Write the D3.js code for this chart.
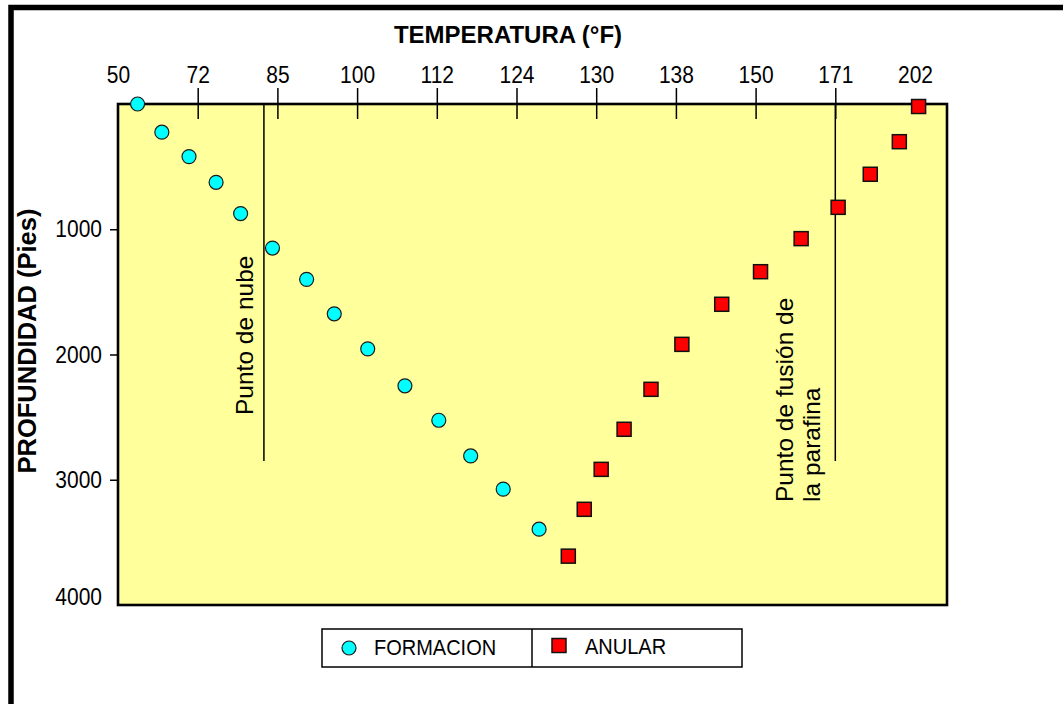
<!DOCTYPE html>
<html><head><meta charset="utf-8">
<script src="https://cdn.jsdelivr.net/npm/d3@7"></script>
<style>
body{margin:0;background:#fff}
svg{display:block}
text{font-family:"Liberation Sans",Arial,Helvetica,sans-serif;fill:#000}
</style>
</head><body>
<svg id="chart" width="1063" height="704"></svg>
<script>
// ---- data ----
const tempTicks = [50, 72, 85, 100, 112, 124, 130, 138, 150, 171, 202];
const depthTicks = [1000, 2000, 3000, 4000];
const formacionTemp  = [55.4, 62.1, 69.6, 75.0, 79.0, 84.2, 90.5, 95.7, 101.6, 107.2, 112.3, 117.1, 122.0, 125.7];
const formacionDepth = [0, 225, 420, 625, 875, 1150, 1400, 1675, 1955, 2250, 2525, 2810, 3075, 3395];
const anularTemp  = [127.9, 129.1, 130.5, 132.8, 135.5, 138.9, 144.9, 151.3, 162.0, 172.1, 184.6, 195.9, 203.4];
const anularDepth = [3610, 3236, 2917, 2597, 2278, 1919, 1599, 1339, 1075, 825, 561, 301, 20];
const seriesNames = ["FORMACION", "ANULAR"];
const xTitle = "TEMPERATURA (°F)";
const yTitle = "PROFUNDIDAD (Pies)";
const cloudPoint = {temp: 82.8, depthEnd: 2850, lines: ["Punto de nube"]};
const meltPoint  = {temp: 171,  depthEnd: 2850, lines: ["Punto de fusión de", "la parafina"]};

// ---- layout ----
const svg = d3.select("#chart");
const L = 118, T = 104, R = 947, B = 605, step = 79.7;
const S = 1.12; // vertical stretch of small labels

const x = d3.scaleLinear().domain(tempTicks).range(tempTicks.map((d, i) => L + i * step));
const y = d3.scaleLinear().domain([0, 4000]).range([T, B]);

// outer frame (top + left)
svg.append("path").attr("d", `M11,704 V7.5 H1063`).attr("fill", "none")
  .attr("stroke", "#000").attr("stroke-width", 5.5);

// plot background
svg.append("rect").attr("x", L).attr("y", T).attr("width", R - L).attr("height", B - T)
  .attr("fill", "#FFFF9C");

// x title
svg.append("text").attr("x", 508).attr("y", 43).attr("text-anchor", "middle")
  .style("font-size", "24px").style("font-weight", "bold").text(xTitle);

// y title
svg.append("text").attr("transform", "translate(36,341) rotate(-90)")
  .attr("text-anchor", "middle").style("font-size", "25.5px").style("font-weight", "bold").text(yTitle);

// top axis
const xAxis = svg.append("g").attr("transform", `translate(0,${T})`)
  .call(d3.axisTop(x).tickValues(tempTicks).tickFormat(d => d).tickSize(16).tickPadding(5));
xAxis.select(".domain").remove();
xAxis.selectAll(".tick line").attr("y1", 15).attr("y2", -16).attr("stroke", "#000").attr("stroke-width", 1.5);
xAxis.selectAll(".tick").filter(d => d === tempTicks[0] || d === tempTicks[tempTicks.length - 1])
  .select("line").remove();
xAxis.selectAll(".tick text").style("font-size", "21px").attr("fill", "#000")
  .attr("y", -21 / S).attr("transform", `scale(1,${S})`);

// left axis
const yAxis = svg.append("g").attr("transform", `translate(${L},0)`)
  .call(d3.axisLeft(y).tickValues(depthTicks).tickFormat(d => d).tickSize(8).tickPadding(8));
yAxis.select(".domain").remove();
yAxis.selectAll(".tick line").attr("stroke", "#000").attr("stroke-width", 1.5);
yAxis.selectAll(".tick text").style("font-size", "21px").attr("fill", "#000")
  .attr("transform", `scale(1,${S})`);
const lastY = yAxis.selectAll(".tick").filter(d => d === depthTicks[depthTicks.length - 1]);
lastY.select("line").remove();
lastY.select("text").attr("y", -8 / S);

// plot border
svg.append("rect").attr("x", L).attr("y", T).attr("width", R - L).attr("height", B - T)
  .attr("fill", "none").attr("stroke", "#000").attr("stroke-width", 2.6);

// annotation lines
[cloudPoint, meltPoint].forEach(a => {
  svg.append("line").attr("x1", x(a.temp)).attr("x2", x(a.temp))
    .attr("y1", y(0)).attr("y2", y(a.depthEnd)).attr("stroke", "#000").attr("stroke-width", 1.5);
});

// annotation texts
svg.append("text").attr("transform", `translate(${x(cloudPoint.temp) - 11},415) rotate(-90)`)
  .style("font-size", "24.5px").text(cloudPoint.lines[0]);
meltPoint.lines.forEach((t, i) => {
  svg.append("text").attr("transform", `translate(${x(meltPoint.temp) - 42 + i * 27},502) rotate(-90)`)
    .style("font-size", "24.5px").text(t);
});

// series
const formacion = formacionTemp.map((t, i) => ({t, d: formacionDepth[i]}));
const anular = anularTemp.map((t, i) => ({t, d: anularDepth[i]}));

svg.append("g").selectAll("circle").data(formacion).join("circle")
  .attr("cx", p => x(p.t)).attr("cy", p => y(p.d)).attr("r", 7)
  .attr("fill", "#00FFFF").attr("stroke", "#1a1a1a").attr("stroke-width", 1.2);

svg.append("g").selectAll("rect").data(anular).join("rect")
  .attr("x", p => x(p.t) - 7).attr("y", p => y(p.d) - 7).attr("width", 14).attr("height", 14)
  .attr("fill", "#FF0000").attr("stroke", "#111").attr("stroke-width", 1.5);

// legend
const lg = svg.append("g");
lg.append("rect").attr("x", 322).attr("y", 629).attr("width", 420).attr("height", 38)
  .attr("fill", "#fff").attr("stroke", "#000").attr("stroke-width", 1.5);
lg.append("line").attr("x1", 532).attr("x2", 532).attr("y1", 629).attr("y2", 667)
  .attr("stroke", "#000").attr("stroke-width", 1.5);
lg.append("circle").attr("cx", 349).attr("cy", 648).attr("r", 7)
  .attr("fill", "#00FFFF").attr("stroke", "#1a1a1a").attr("stroke-width", 1.2);
lg.append("text").attr("transform", `translate(374,655) scale(1,${S})`).style("font-size", "20px").text(seriesNames[0]);
lg.append("rect").attr("x", 552).attr("y", 638.5).attr("width", 14).attr("height", 14)
  .attr("fill", "#FF0000").attr("stroke", "#111").attr("stroke-width", 1.5);
lg.append("text").attr("transform", `translate(585,654) scale(1,${S})`).style("font-size", "20px").text(seriesNames[1]);
</script>
</body></html>
